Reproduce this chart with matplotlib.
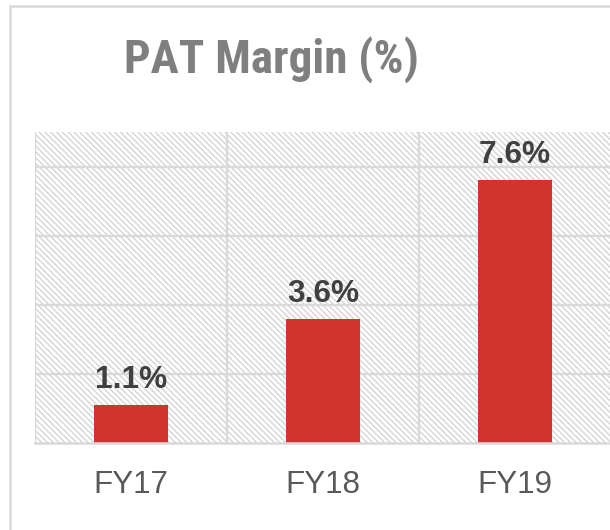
import matplotlib
matplotlib.use("Agg")
import matplotlib.pyplot as plt
from matplotlib.patches import Rectangle
import matplotlib.transforms as mtransforms

categories = ["FY17", "FY18", "FY19"]
values = [1.1, 3.6, 7.6]
value_labels = ["1.1%", "3.6%", "7.6%"]
title = "PAT Margin (%)"

DPI = 122
W, H = 610, 530
fig = plt.figure(figsize=(W / DPI, H / DPI), dpi=DPI)
fig.patch.set_facecolor("white")

def px2pt(p):
    return p * 72.0 / DPI

plt.rcParams["hatch.linewidth"] = 0.8

# outer chart border (cropped on right/bottom)
fig.add_artist(Rectangle((10 / W, -0.1), 1.2, (530 - 6) / H + 0.1,
                         transform=fig.transFigure, facecolor="none",
                         edgecolor="#d9d9d9", linewidth=1.5, zorder=0))

left, top, bottom = 35, 132, 443
ax = fig.add_axes([left / W, (H - bottom) / H, 576 / W, (bottom - top) / H])
ax.set_xlim(-0.5, 2.5)
ax.set_ylim(0, 9)
ax.set_facecolor("white")

# hatched plot area background
ax.add_patch(Rectangle((0, 0), 1, 1, transform=ax.transAxes, facecolor="white",
                       edgecolor="#d4d4d4", linewidth=0, hatch="\\" * 7, zorder=0))

for s in ["top", "right", "left"]:
    ax.spines[s].set_visible(False)
ax.spines["bottom"].set_color("#d9d9d9")
ax.spines["bottom"].set_linewidth(1.5)
ax.spines["bottom"].set_zorder(3)

for yv in [2, 4, 6, 8]:
    ax.axhline(yv, color="#d9d9d9", linewidth=1.4, zorder=1)
for xv in [-0.5, 0.5, 1.5]:
    ax.axvline(xv, color="#d9d9d9", linewidth=1.4, zorder=1)

x = list(range(len(categories)))
bars = ax.bar(x, values, width=0.39, color="#d0342c", zorder=2)

for xi, v, lab in zip(x, values, value_labels):
    ax.annotate(lab, (xi, v), xytext=(0, px2pt(17)), textcoords="offset points",
                ha="center", va="baseline", fontsize=px2pt(31.6), fontweight="bold",
                color="#404040", family="Liberation Sans", zorder=4)

ax.set_xticks([])
ax.set_yticks([])
trans = mtransforms.blended_transform_factory(ax.transData, ax.transAxes)
for xi, c in zip(x, categories):
    ax.text(xi, (bottom - 493) / (bottom - top), c, transform=trans, ha="center",
            va="baseline", fontsize=px2pt(31.4), color="#595959",
            family="Liberation Sans")

fig.text(271.5 / W, (H - 73) / H, title, ha="center", va="baseline",
         fontsize=px2pt(47), fontweight="bold", color="#7f7f7f",
         family=["Roboto Condensed", "Archivo Narrow", "Liberation Sans"])

fig.savefig("out.png", dpi=DPI, facecolor="white")
